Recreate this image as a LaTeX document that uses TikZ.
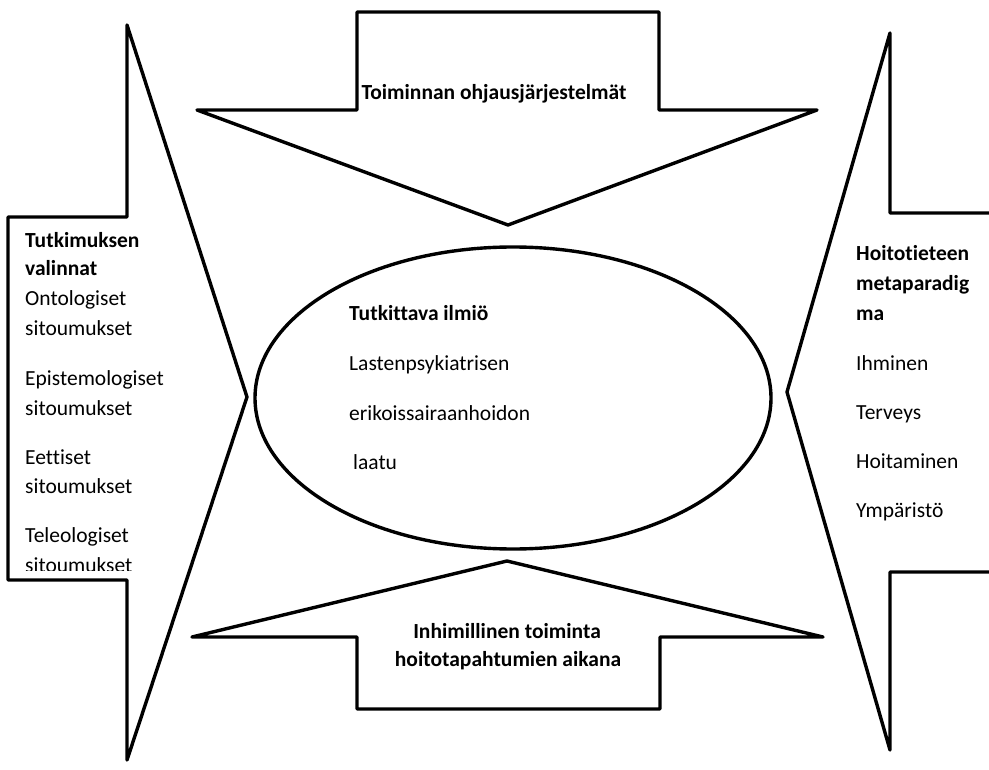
\documentclass[tikz,border=0pt]{standalone}
\usepackage{fontspec}
\setmainfont[Ligatures=NoCommon]{Carlito}
\begin{document}
\begin{tikzpicture}[x=1pt,y=-1pt,
  shape line/.style={draw=black,line width=3.4pt,line join=round,fill=white},
  txt/.style={inner sep=0pt,font=\fontsize{21.5}{24}\selectfont},
  btxt/.style={txt,font=\fontsize{21.5}{24}\selectfont\bfseries},
  lefttxt/.style={txt,anchor=mid west},
  leftbtxt/.style={btxt,anchor=mid west}]
\useasboundingbox (0,0) rectangle (989,770);
% left arrow
\draw[shape line] (8,217) -- (127,217) -- (127,25) -- (247,397) -- (127,760) -- (127,580) -- (8,580) -- cycle;
% right arrow (runs off the right edge)
\fill[white] (989,213) -- (890,213) -- (890,33) -- (787,392) -- (890,750) -- (890,572) -- (989,572) -- cycle;
\draw[shape line,fill=none] (989,213) -- (890,213) -- (890,33) -- (787,392) -- (890,750) -- (890,572) -- (989,572);
% top arrow
\draw[shape line] (357,12) -- (659,12) -- (659,110) -- (817,110) -- (508,225) -- (197,110) -- (357,110) -- cycle;
% bottom arrow
\draw[shape line] (357,709) -- (660,709) -- (660,637) -- (823,637) -- (507,561) -- (192,637) -- (357,637) -- cycle;
% ellipse
\draw[shape line,fill=none] (513,398) ellipse [x radius=258,y radius=151];
\coordinate (ellc) at (513,398);
% top text
\node[btxt] (toptxt) at (494,94) {Toiminnan ohjausjärjestelmät};
% bottom text
\node[btxt] (bot1) at (507,631) {Inhimillinen toiminta};
\node[btxt] (bot2) at (508,661) {hoitotapahtumien aikana};
% ellipse text
\node[leftbtxt] (e1) at (349,318) {Tutkittava ilmiö};
\node[lefttxt] (e2) at (349,368) {Lastenpsykiatrisen};
\node[lefttxt] (e3) at (349,418) {erikoissairaanhoidon};
\node[lefttxt] (e4) at (353,467) {laatu};
% left text
\begin{scope}
\clip (10,219) rectangle (240,570);
\node[leftbtxt] (l1) at (25,245) {Tutkimuksen};
\node[leftbtxt] (l2) at (25,273) {valinnat};
\node[lefttxt] (l3) at (25,303) {Ontologiset};
\node[lefttxt] (l4) at (25,333) {sitoumukset};
\node[lefttxt] (l5) at (25,383) {Epistemologiset};
\node[lefttxt] (l6) at (25,413) {sitoumukset};
\node[lefttxt] (l7) at (25,462) {Eettiset};
\node[lefttxt] (l8) at (25,491) {sitoumukset};
\node[lefttxt] (l9) at (25,540) {Teleologiset};
\node[lefttxt] (l10) at (25,570) {sitoumukset};
\end{scope}
% right text
\node[leftbtxt] (r1) at (856,258) {Hoitotieteen};
\node[leftbtxt] (r2) at (856,288) {metaparadig};
\node[leftbtxt] (r3) at (856,318) {ma};
\node[lefttxt] (r4) at (856,368) {Ihminen};
\node[lefttxt] (r5) at (856,417) {Terveys};
\node[lefttxt] (r6) at (856,466) {Hoitaminen};
\node[lefttxt] (r7) at (856,515) {Ympäristö};
\end{tikzpicture}
\end{document}
